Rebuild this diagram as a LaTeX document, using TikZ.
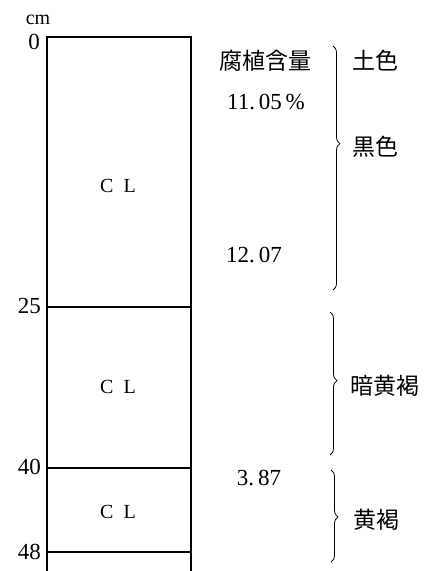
\documentclass[tikz,border=0pt]{standalone}
\usepackage{fontspec}
\setmainfont{Liberation Serif}
\newfontfamily\jp{Noto Sans CJK JP}
\usetikzlibrary{decorations.pathreplacing}
\begin{document}
\begin{tikzpicture}[x=1pt,y=-1pt,
  line/.style={line width=1.3pt},
  num/.style={font=\fontsize{23}{23}\selectfont, inner sep=0pt},
  jlab/.style={font=\jp\fontsize{23}{23}\selectfont, anchor=west, inner sep=0pt},
  cl/.style={font=\fontsize{20}{20}\selectfont, inner sep=0pt},
  brc/.style={decorate, line width=0.8pt}]
\useasboundingbox (0,0) rectangle (427,571);
% column
\coordinate (tl) at (47,37);
\coordinate (tr) at (191,37);
\coordinate (bl) at (47,571);
\coordinate (br) at (191,571);
\draw[line] (bl) -- (tl) -- (tr) -- (br);
\coordinate (l25) at (47,307); \coordinate (r25) at (191,307);
\coordinate (l40) at (47,468); \coordinate (r40) at (191,468);
\coordinate (l48) at (47,552); \coordinate (r48) at (191,552);
\draw[line] (l25) -- (r25);
\draw[line] (l40) -- (r40);
\draw[line] (l48) -- (r48);
% depth labels
\node[num, font=\fontsize{20}{20}\selectfont] (cm) at (38,20) {cm};
\node[num, anchor=east] (d0) at (40,42) {0};
\node[num, anchor=east] (d25) at (41,306) {25};
\node[num, anchor=east] (d40) at (41,467) {40};
\node[num, anchor=east] (d48) at (41,552) {48};
% horizons
\node[cl] (c1) at (118,186) {C\hspace{0.5em}L};
\node[cl] (c2) at (118,387) {C\hspace{0.5em}L};
\node[cl] (c3) at (118,512) {C\hspace{0.5em}L};
% humus
\node[font=\jp\fontsize{23}{23}\selectfont, inner sep=0pt] (hum) at (265,61) {腐植含量};
\node[num] (h1) at (266,102) {11.\,05\,\%};
\node[num] (h2) at (254,255) {12.\,07};
\node[num] (h3) at (259,478) {3.\,87};
% braces
\coordinate (b1t) at (333,46); \coordinate (b1b) at (333,290);
\coordinate (b2t) at (330,312); \coordinate (b2b) at (330,455);
\coordinate (b3t) at (331,470); \coordinate (b3b) at (331,562);
\draw[brc, decoration={brace, amplitude=7pt, aspect=0.4}] (b1t) -- (b1b);
\draw[brc, decoration={brace, amplitude=7pt, aspect=0.48}] (b2t) -- (b2b);
\draw[brc, decoration={brace, amplitude=7pt, aspect=0.51}] (b3t) -- (b3b);
\node[jlab] (s1) at (352,61) {土色};
\node[jlab] (s2) at (352,147) {黒色};
\node[jlab] (s3) at (350,386) {暗黄褐};
\node[jlab] (s4) at (353,520) {黄褐};
\end{tikzpicture}
\end{document}
